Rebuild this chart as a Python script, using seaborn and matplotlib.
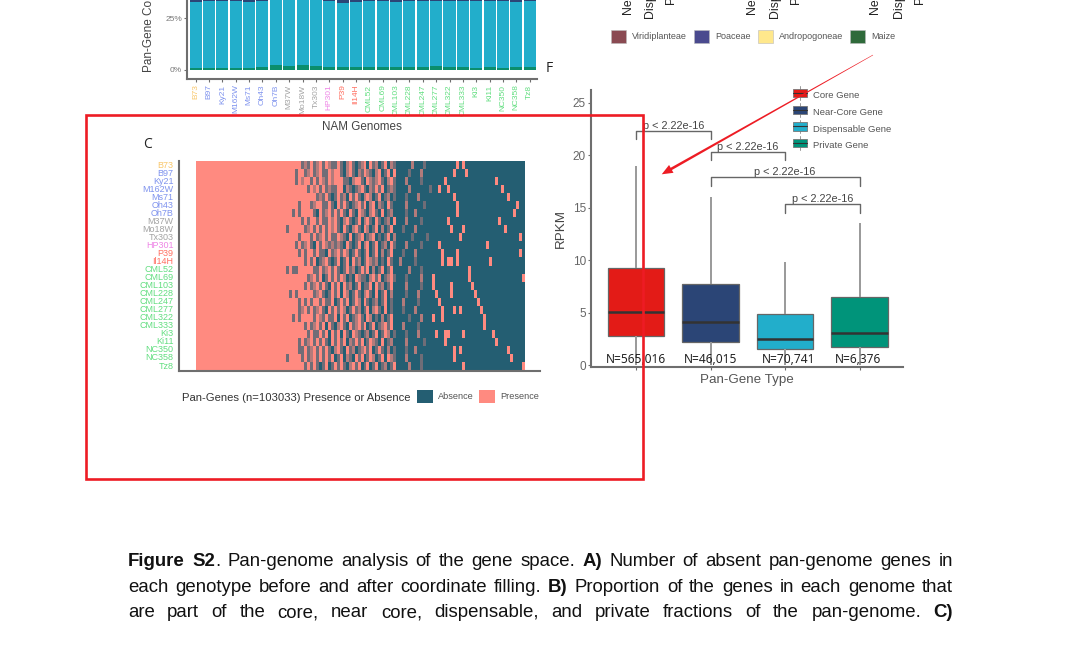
import matplotlib
matplotlib.use("Agg")
import numpy as np
import pandas as pd
import seaborn as sns
import matplotlib.pyplot as plt
from matplotlib.colors import LinearSegmentedColormap
from matplotlib.legend_handler import HandlerBase
from matplotlib.lines import Line2D
from matplotlib.patches import Patch, Polygon, Rectangle
from matplotlib.transforms import Affine2D

# ------------------------------------------------------------------ data
genomes = ["B73", "B97", "Ky21", "M162W", "Ms71", "Oh43", "Oh7B", "M37W", "Mo18W", "Tx303",
           "HP301", "P39", "Il14H", "CML52", "CML69", "CML103", "CML228", "CML247", "CML277",
           "CML322", "CML333", "Ki3", "Ki11", "NC350", "NC358", "Tz8"]
genome_colors = ["#F9C76B"] + ["#7F93EE"] * 6 + ["#A3A3A3"] * 3 + ["#EE85E6"] + ["#FF6F61"] * 2 + ["#62DE80"] * 13

private_pct = [1.2, 1.1, 1.1, 1.2, 1.1, 1.4, 2.4, 1.7, 2.4, 1.7, 1.4, 1.5, 1.5,
               1.5, 1.4, 1.5, 1.4, 1.4, 1.7, 1.5, 1.5, 1.1, 1.5, 1.2, 1.4, 1.5]
dispensable_pct = [31.8, 32.1, 32.1, 32.0, 31.9, 31.8, 31.8, 32.3, 31.8, 32.3, 31.9, 30.9, 31.6,
                   31.7, 31.9, 31.6, 31.8, 31.8, 31.6, 31.8, 31.8, 32.1, 31.7, 32.0, 31.7, 31.7]
near_core_pct = [5.2, 5.0, 5.0, 5.0, 5.2, 5.1, 5.2, 5.1, 5.2, 5.0, 5.2, 5.4, 5.3,
                 5.2, 5.1, 5.2, 5.2, 5.2, 5.1, 5.2, 5.2, 5.1, 5.1, 5.1, 5.2, 5.1]

# Presence/absence, x = 285..435 px (. present, o/x blurred, # absent)
transition_rows = [
    ".....xox.xo.x.oxx.x#o.x#xo.#.xo#x.#ox#####o###x###",
    "...x..xo.xo.xx.o..x#o.x#ox.ox#o.#x.#.####x###o####",
    "...x.o..x.x.ox.o...xx#o..x#.oxo.x#o.x###o####x####",
    ".......x.o.x.xoxx..#ox#xo.x#ox.x.#xox####o######x#",
    "..........xox.x#x.xo#.x.x#o.o#x.#xo#x###x###o#####",
    "....x...xo..xx.x#.x.x#xo.x.#o.#ox#.x####o#####x###",
    "..x.x....x#.xo.x.x.x#.x#.ox#o.x#.#xo####x##o######",
    ".....x.x..x.xx.o.x#o.x#x.#o.x#.x#xo#.###o####x####",
    "x.....xo.x.x.x.o.x#.x#o.x#.o#x.#o#x.###x###o######",
    "....x...x.xo.x.xx.ox#.#xo.#xo.#x#x.#o#####x####x##",
    "...x.xo.x#.x.oxoxox#.x#x.#o.#x.#xo#.x###o####x####",
    "....x.x..x.xx#.xo.x.o#x.x#x.#x.#o#x.###x###o######",
    "......x.x.#xo.x#x.#x.#.xo#x.oxo#x#.x##o####x######",
    "x.xx.....xx.xo.x.x#x.xo#x.x.#o#x.#x.#####o###x####",
    ".......xo.x.#x.x.x.o#x#.oxx#o.x.#xo.x###x####o####",
    "......x.xo.x.x#.x.#.xo#x.#xx.#.xo#x.####o####x####",
    ".x.x.....xo.x#x.x.#.o#x.x#o.x#.#x.#o####x###o#####",
    "....x.x.x..x.xx.#x.x.#x.o#.x#xo#x.#x###o####x#####",
    "....xo.x.xo.x#.x.x.o#x.xo#x.#o.x#.#x###x###o######",
    "..x.x....x.ox.xx.#.x.#xo.x#.o#x#o#x.#####x###o####",
    "......x.xo.x.#.x#o.x#.xo.x.#x.#xo.x.###o####x#####",
    ".......x.xx.x.#.x.#.x#.ox#xo#x.#x.o#x###x###o#####",
    "....x.xo.x.x.x#.x.x.#ox.x.#x.ox#.#xo####o#####x###",
    "....xx.xo.x.x.x#o.x#.xo#xo.x.#x.x#o#x###x##o######",
    "x....x.xo.x.x.x.#x.#ox#.x.#x.o#x.#.ox###o####x####",
    "......x.x.x#x.#x.x.x#o.x.#x.#x.#xo#x.####o###x####",
]
# Isolated present genes in the mostly absent right end (column index from x = 285 px)
tail_present = [[57, 59], [56, 60], [53, 70], [51, 54, 72], [56, 74], [57, 77], [57, 76], [54, 71],
                [55, 59, 73], [58, 78], [51, 67], [52, 57, 78], [52, 54, 55, 57, 68], [61],
                [49, 61, 79], [49, 55, 62], [50, 55, 63], [51, 64], [52, 56, 58, 65], [49, 52, 66],
                [66], [50, 53, 54, 59, 69], [53, 70], [56, 58, 74], [56, 75], [59, 79]]
n_core_columns = 30      # columns present in all genomes
n_gene_columns = 110
level_values = {"#": 0.0, "x": 0.35, "o": 0.65, ".": 1.0}

gene_types = ["Core Gene", "Near-Core Gene", "Dispensable Gene", "Private Gene"]
# five-number summaries: whisker low, Q1, median, Q3, whisker high
core_rpkm = [0.0, 2.76, 5.08, 9.27, 18.95]
near_core_rpkm = [0.0, 2.16, 4.06, 7.75, 16.0]
dispensable_rpkm = [0.0, 1.56, 2.48, 4.86, 9.84]
private_rpkm = [0.0, 1.75, 3.08, 6.45, 13.5]
gene_counts = ["N=565,016", "N=46,015", "N=70,741", "N=6,376"]
p_label = "p < 2.22e-16"
bracket_pairs = [(0, 1), (1, 2), (1, 3), (2, 3)]
bracket_tops = [22.3, 20.3, 17.87, 15.3]

taxa = ["Viridiplanteae", "Poaceae", "Andropogoneae", "Maize"]
taxa_colors = ["#8A4A52", "#4A4A8E", "#FFE88C", "#2F6A3A"]
type_colors = ["#E31B17", "#2B4576", "#22AECB", "#00947A"]
TEAL, PINK = "#245E72", "#FF8A80"
GREY = "#6E6E6E"
RED = "#ED1C24"

caption = [
    [("Figure S2", True), (". Pan-genome analysis of the gene space.", False), (" A)", True),
     (" Number of absent pan-genome genes in", False)],
    [("each genotype before and after coordinate filling.", False), (" B)", True),
     (" Proportion of the genes in each genome that", False)],
    [("are part of the core, near core, dispensable, and private fractions of the pan-genome.", False),
     (" C)", True)],
]

# ------------------------------------------------------------------ setup
W, H = 1080, 666
sns.set_theme(style="white")
plt.rcParams["font.family"] = ["Liberation Sans", "DejaVu Sans"]
plt.rcParams["patch.force_edgecolor"] = False
plt.rcParams["patch.edgecolor"] = "none"
fig = plt.figure(figsize=(W / 100, H / 100), dpi=100, facecolor="white")
px = Affine2D().scale(1, -1).translate(0, H)


def add_axes(x0, y0, x1, y1):
    return fig.add_axes([x0 / W, 1 - y1 / H, (x1 - x0) / W, (y1 - y0) / H])


def style_spines(ax, width=1.5):
    for side in ("top", "right"):
        ax.spines[side].set_visible(False)
    for side in ("left", "bottom"):
        ax.spines[side].set_visible(True)
        ax.spines[side].set_color(GREY)
        ax.spines[side].set_linewidth(width)


# ------------------------------------------------------------------ panel B (cropped)
axb = add_axes(187, 0, 537, 79)
stack = pd.DataFrame({"genome": genomes, "private": private_pct,
                      "dispensable": dispensable_pct, "near": near_core_pct})
stack["top_private"] = stack["private"]
stack["top_dispensable"] = stack["top_private"] + stack["dispensable"]
stack["top_near"] = stack["top_dispensable"] + stack["near"]
for col, color in (("top_near", type_colors[1]), ("top_dispensable", type_colors[2]),
                   ("top_private", "#0B8E6C")):
    sns.barplot(data=stack, x="genome", y=col, order=genomes, color=color, saturation=1,
                width=0.9, edgecolor="none", linewidth=0, ax=axb)
axb.set_xlim(-0.65, 25.55)
axb.set_ylim(-4.36, 33.9)
axb.set_yticks([0, 25], ["0%", "25%"], fontsize=6, color="#777777")
axb.tick_params(axis="y", length=2, width=0.8, color=GREY, pad=1.5, left=True)
axb.tick_params(axis="x", length=2.5, width=0.8, color=GREY, pad=1.5, bottom=True)
axb.set_xticks(range(len(genomes)))
axb.set_xticklabels(genomes, rotation=90, fontsize=6)
for lab, c in zip(axb.get_xticklabels(), genome_colors):
    lab.set_color(c)
style_spines(axb)
axb.set_xlabel("NAM Genomes", fontsize=8.4, color="#444444", va="center", ha="center")
axb.xaxis.set_label_coords(362, 127.5, transform=px)
axb.set_ylabel("Pan-Gene Content", fontsize=8.5, color="#444444", ha="left", va="center")
axb.yaxis.set_label_coords(149, 72, transform=px)

# ------------------------------------------------------------------ panel C
axc = add_axes(179, 161, 540, 371)
matrix = np.ones((len(genomes), n_gene_columns))
for r, row in enumerate(transition_rows):
    row = row.ljust(50, "#")[:50]
    matrix[r, n_core_columns:] = 0.0
    matrix[r, n_core_columns:n_core_columns + 50] = [level_values[ch] for ch in row]
    for c in tail_present[r]:
        matrix[r, min(n_core_columns + c, n_gene_columns - 1)] = 1.0
cmap = LinearSegmentedColormap.from_list("pa", [TEAL, PINK])
frame = pd.DataFrame(matrix, index=genomes)
sns.heatmap(frame, cmap=cmap, vmin=0, vmax=1, cbar=False, ax=axc, xticklabels=False, yticklabels=True)
axc.set_xlim(-5.68, 115.0)
axc.set_ylim(26.12, 0)
axc.set_xlabel("")
axc.set_ylabel("")
axc.tick_params(axis="y", length=0, pad=4.0)
axc.set_yticks(np.arange(len(genomes)) + 0.5)
axc.set_yticklabels(genomes, rotation=0, fontsize=6.5)
for lab, c in zip(axc.get_yticklabels(), genome_colors):
    lab.set_color(c)
style_spines(axc)
axc.set_zorder(2)

fig.text(182, 398, "Pan-Genes (n=103033) Presence or Absence", transform=px, fontsize=8.1,
         color="#333333", ha="left", va="center")
fig.legend(handles=[Patch(facecolor=TEAL, label="Absence"), Patch(facecolor=PINK, label="Presence")],
           loc="upper left", bbox_to_anchor=(417, 390), bbox_transform=px, ncol=2, frameon=False,
           fontsize=6.6, borderpad=0, borderaxespad=0, handlelength=1.75, handleheight=1.75,
           handletextpad=0.55, columnspacing=0.55, labelcolor="#555555")

# ------------------------------------------------------------------ panel F
axf = add_axes(590.7, 90, 903, 367)
summaries = [core_rpkm, near_core_rpkm, dispensable_rpkm, private_rpkm]
box_df = pd.DataFrame([(t, v) for t, vals in zip(gene_types, summaries) for v in vals],
                      columns=["type", "rpkm"])
sns.boxplot(data=box_df, x="type", y="rpkm", hue="type", order=gene_types, hue_order=gene_types,
            palette=type_colors, saturation=1, width=0.76, whis=(0, 100), showcaps=False,
            fliersize=0, linewidth=0.9, linecolor="#666666", legend=False, ax=axf,
            medianprops=dict(color="#333333", linewidth=1.8),
            whiskerprops=dict(color="#999999", linewidth=1.4))
axf.set_xlim(-0.607, 3.58)
axf.set_ylim(-0.19, 26.2)
axf.set_yticks([0, 5, 10, 15, 20, 25])
axf.tick_params(axis="y", labelsize=8.5, labelcolor="#666666", length=2, width=0.8, color=GREY, pad=1.5, left=True)
axf.tick_params(axis="x", length=2, width=0.8, color=GREY, bottom=True, labelbottom=False)
style_spines(axf)
axf.set_xlabel("Pan-Gene Type", fontsize=9.6, color="#555555", va="center", ha="center")
axf.xaxis.set_label_coords(747, 380, transform=px)
axf.set_ylabel("RPKM", fontsize=9.6, color="#444444", va="center", ha="center")
axf.yaxis.set_label_coords(561, 229, transform=px)
for i, (txt, off) in enumerate(zip(gene_counts, [0, 0, 0.04, -0.02])):
    axf.text(i + off, 0.55, txt, ha="center", va="center", fontsize=8.6, color="#222222",
             family=["Noto Sans", "DejaVu Sans"])
for (a, b), top in zip(bracket_pairs, bracket_tops):
    axf.plot([a, a, b, b], [top - 0.8, top, top, top - 0.8], color="#666666", lw=1.0, clip_on=False)
    axf.text((a + b) / 2, top + 0.48, p_label, ha="center", va="center", fontsize=7.8, color="#444444")


class BoxKey(HandlerBase):
    def create_artists(self, legend, orig, x, y, w, h, fs, trans):
        rect = Rectangle((x, y), w, h, facecolor=orig.get_facecolor(), edgecolor="#777777",
                         linewidth=0.6, transform=trans)
        whisker = Line2D([x + w / 2] * 2, [y - 0.3 * h, y + 1.3 * h], color="#999999", lw=0.7, transform=trans)
        median = Line2D([x, x + w], [y + h / 2] * 2, color="#333333", lw=0.8, transform=trans)
        return [whisker, rect, median]


type_handles = [Patch(facecolor=c, label=t) for c, t in zip(type_colors, gene_types)]
fig.legend(handles=type_handles, loc="upper left", bbox_to_anchor=(793, 91), bbox_transform=px,
           handler_map={Patch: BoxKey()}, frameon=False, fontsize=6.8, borderpad=0, borderaxespad=0,
           handlelength=1.48, handleheight=1.0, handletextpad=0.62, labelspacing=0.75,
           labelcolor="#555555")

# ------------------------------------------------------------------ cropped panels above F
for xs in ((628, 650, 671), (752, 775, 796), (875, 899, 920)):
    for x, label, bottom in zip(xs, ("Near-Core", "Dispensable", "Private"), (14, 18, 4)):
        fig.text(x, bottom, label, transform=px, rotation=90, fontsize=8.8, color="#222222",
                 ha="center", va="bottom")
fig.legend(handles=[Patch(facecolor=c, edgecolor="#BBBBBB", linewidth=0.4, label=t)
                    for c, t in zip(taxa_colors, taxa)],
           loc="upper left", bbox_to_anchor=(611, 30), bbox_transform=px, ncol=4, frameon=False,
           fontsize=6.5, borderpad=0, borderaxespad=0, handlelength=1.67, handleheight=1.78,
           handletextpad=0.67, columnspacing=0.78, labelcolor="#555555")

for (x, y, s) in ((148, 145, "C"), (549, 68, "F")):
    fig.text(x, y, s, transform=px, fontsize=10, color="#222222", ha="center", va="center",
             family=["Open Sans", "DejaVu Sans"])

# ------------------------------------------------------------------ caption (justified)
renderer = fig.canvas.get_renderer()
CAP_LEFT, CAP_RIGHT = 128, 953
for baseline, line in zip((566, 592, 617), caption):
    tokens = []
    for text, bold in line:
        glue = not text.startswith(" ") and bool(tokens)
        for k, word in enumerate(text.split()):
            t = fig.text(0, baseline, word, transform=px, fontsize=13.4, color="#111111",
                         fontweight="bold" if bold else "normal", ha="left", va="baseline")
            width = t.get_window_extent(renderer).width
            tokens.append([t, width, glue and k == 0])
    gaps = sum(1 for tok in tokens[1:] if not tok[2])
    gap = (CAP_RIGHT - CAP_LEFT - sum(tok[1] for tok in tokens)) / gaps
    x = CAP_LEFT
    for i, (t, width, glued) in enumerate(tokens):
        if i and not glued:
            x += gap
        t.set_x(x)
        x += width

# ------------------------------------------------------------------ red annotations
ov = fig.add_axes([0, 0, 1, 1], zorder=10)
ov.set_xlim(0, W)
ov.set_ylim(H, 0)
ov.axis("off")
ov.patch.set_visible(False)
ov.add_patch(Rectangle((86, 115), 557, 364, fill=False, edgecolor=RED, linewidth=1.9))
tip = np.array([661.7, 174.3])
tail = np.array([873.0, 55.0])
d = (tail - tip) / np.linalg.norm(tail - tip)
n = np.array([-d[1], d[0]])
base = tip + d * 11
ov.add_patch(Polygon([tip, base + n * 4.5, base + n * 1.3, tail + n * 0.25,
                      tail - n * 0.25, base - n * 1.3, base - n * 4.5],
                     closed=True, facecolor=RED, edgecolor="none"))

fig.savefig("out.png", dpi=100, facecolor="white")
